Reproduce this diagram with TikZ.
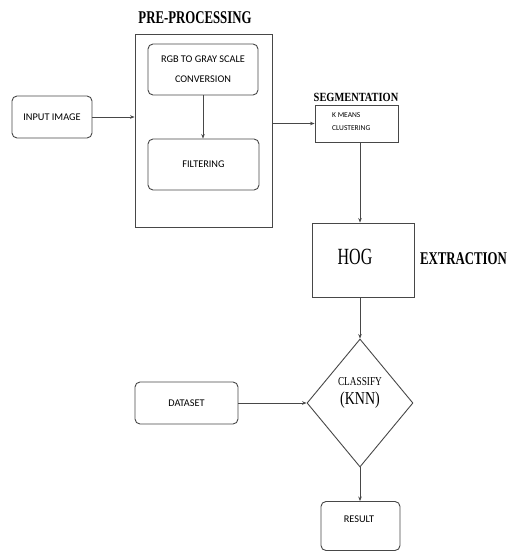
\documentclass[tikz,border=0pt]{standalone}
\usepackage{fontspec}
\usepackage{graphicx}
\setmainfont{Liberation Serif}
\newfontfamily\boxfont{Carlito}
\usetikzlibrary{shapes.geometric,arrows.meta}
\newcommand{\vstretch}[2]{\scalebox{1}[#1]{#2}}
\tikzset{
  ln/.style={draw=black!72, line width=0.9pt},
  rbox/.style={ln, rounded corners=5pt, inner sep=0pt, font=\boxfont\fontsize{10.3}{20}\selectfont, align=center},
  sbox/.style={ln, inner sep=0pt},
  lbl/.style={inner sep=0pt, font=\bfseries\fontsize{12.8}{14}\selectfont},
  arr/.style={ln, -{Stealth[length=4.5pt,width=3.5pt]}}
}
\begin{document}
\begin{tikzpicture}[x=1pt,y=-1pt]
\useasboundingbox (0,0) rectangle (509,552);
% nodes
\node[rbox, minimum width=80pt, minimum height=42pt] (input) at (52,117) {INPUT IMAGE};
\node[sbox, minimum width=137pt, minimum height=193pt] (pre) at (203.5,130.5) {};
\node[lbl] (prelbl) at (195,18) {\vstretch{1.4}{PRE-PROCESSING}};
\node[rbox, minimum width=110pt, minimum height=51pt] (rgb) at (203,69.5) {RGB TO GRAY SCALE\\CONVERSION};
\node[rbox, minimum width=111pt, minimum height=51pt] (filt) at (203.5,164.5) {FILTERING};
\node[sbox, minimum width=83pt, minimum height=37pt] (seg) at (356.5,123.5) {};
\node[inner sep=0pt, anchor=west, align=left, font=\boxfont\fontsize{7.5}{13}\selectfont] (segtxt) at (332,121.5) {K MEANS\\CLUSTERING};
\node[lbl, font=\bfseries\fontsize{10.4}{12}\selectfont] (seglbl) at (356,97) {\vstretch{1.2}{SEGMENTATION}};
\node[sbox, minimum width=102pt, minimum height=74pt] (hog) at (363,260) {};
\node[inner sep=0pt, font=\fontsize{16}{18}\selectfont] (hogtxt) at (355,257) {\vstretch{1.45}{HOG}};
\node[lbl] (extlbl) at (463.5,259) {\vstretch{1.4}{EXTRACTION}};
\node[ln, diamond, minimum width=106pt, minimum height=128pt, inner sep=0pt] (cls) at (360,403) {};
\node[inner sep=0pt, font=\fontsize{9.3}{11}\selectfont] (clstxt) at (360,382) {\vstretch{1.3}{CLASSIFY}};
\node[inner sep=0pt, font=\fontsize{14}{16}\selectfont] (knntxt) at (360,400) {\vstretch{1.3}{(KNN)}};
\node[rbox, minimum width=103pt, minimum height=42pt] (data) at (186.5,403) {DATASET};
\node[rbox, minimum width=79pt, minimum height=49pt, text depth=0pt] (res) at (360.5,526) {};
\node[inner sep=0pt, font=\boxfont\fontsize{10.3}{12}\selectfont] (restxt) at (359,519) {RESULT};
% connectors
\draw[arr] (input.east) -- (input.east -| pre.west);
\draw[arr] (rgb.south) -- (filt.north -| rgb.south);
\draw[arr] (seg.west -| pre.east) -- (seg.west);
\draw[arr] (cls.north |- seg.south) -- (cls.north |- hog.north);
\draw[arr] (cls.north |- hog.south) -- (cls.north);
\draw[arr] (data.east) -- (cls.west);
\draw[arr] (cls.south) -- (cls.south |- res.north);
\end{tikzpicture}
\end{document}
